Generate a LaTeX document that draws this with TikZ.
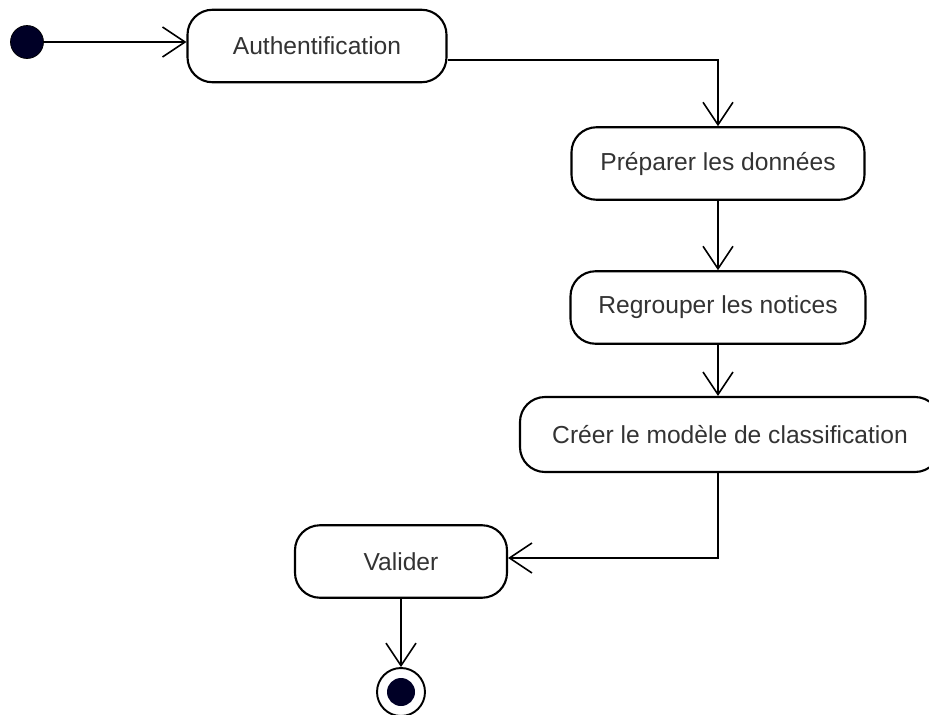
\documentclass[tikz,border=0pt]{standalone}
\usepackage{fontspec}
\setmainfont{Liberation Sans}
\usepackage{tikz}
\usetikzlibrary{calc,positioning,arrows.meta}

\begin{document}
\begin{tikzpicture}[
      activity/.style={draw=black, line width=1.2pt, rounded corners=0.5cm,
        fill=white, font=\fontsize{14}{16}\selectfont, text=black!80,
        minimum height=1.45cm, inner sep=0pt},
      flow/.style={-{Straight Barb[length=0.45cm, width=0.6cm, line width=0.9pt]},
        line width=0.9pt, black},
    ]
    \useasboundingbox (0,0) rectangle (18.58,-14.28);
    % start and end points
    \node[circle, fill=black!85!blue, draw=black, minimum size=0.66cm, inner sep=0pt] (init) at (0.54,-0.84) {};
    \node[circle, draw=black, line width=1.1pt, minimum size=0.96cm, inner sep=0pt] (fin) at (8.02,-13.84) {};
    \fill[black!85!blue] (fin.center) circle (0.28);
    % activities
    \node[activity, minimum width=5.18cm] (auth) at (6.34,-0.92)  {Authentification};
    \node[activity, minimum width=5.86cm] (prep) at (14.36,-3.27) {Préparer les données};
    \node[activity, minimum width=5.9cm]  (regr) at (14.36,-6.15) {Regrouper les notices};
    \node[activity, minimum width=8.4cm, minimum height=1.5cm] (cree) at (14.6,-8.69) {Créer le modèle de classification};
    \node[activity, minimum width=4.24cm] (val)  at (8.02,-11.23) {Valider};
    % transitions
    \draw[flow] (init) -- (init -| auth.west);
    \draw[flow] ([yshift=-0.28cm]auth.east) -| (prep.north);
    \draw[flow] (prep.south) -- (prep.south |- regr.north);
    \draw[flow] (regr.south) -- (regr.south |- cree.north);
    \draw[flow] (regr.south |- cree.south) |- ([yshift=0.07cm]val.east);
    \draw[flow] (val.south) -- (fin.north);
  \end{tikzpicture}
\end{document}
